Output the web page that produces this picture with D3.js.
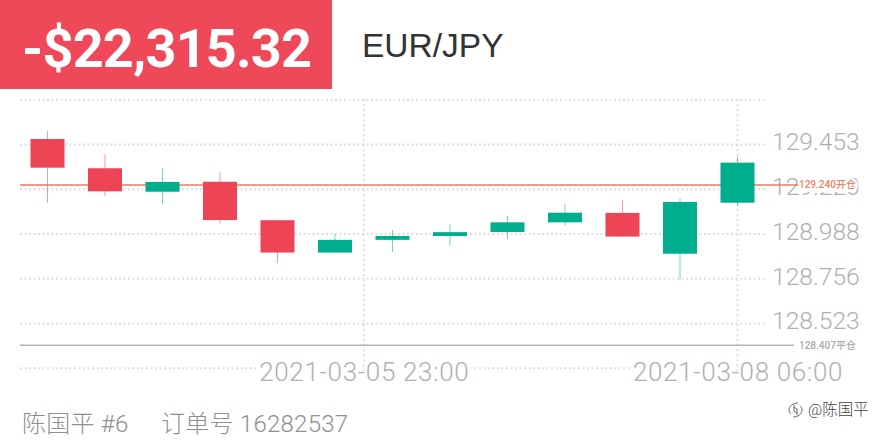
<!DOCTYPE html>
<html lang="en">

<head>
    <meta charset="UTF-8">
    <script src="https://d3js.org/d3.v7.min.js"></script>
    <title>EUR/JPY</title>
    <style>
        html, body { margin: 0; padding: 0; background: #fff; }
        svg { display: block; }
        .grid line { stroke: #dedede; stroke-width: 2; stroke-dasharray: 2 2.5; }
        .grid path { display: none; }
        .grid text { font-family: Roboto, sans-serif; font-weight: 300; font-size: 24.6px; fill: #b0b0b0; }
        .time text { font-size: 26px; letter-spacing: 0.65px; }
    </style>
</head>

<body>
    <div id="chart"></div>
</body>
<script>
    //Data
    const open = [129.479, 129.327, 129.205, 129.257, 129.057, 128.889, 128.955, 128.975, 128.996, 129.046, 129.095, 128.883, 129.148];
    const high = [129.520, 129.400, 129.327, 129.309, 129.057, 128.986, 129.006, 129.036, 129.079, 129.140, 129.162, 129.171, 129.387];
    const low = [129.148, 129.183, 129.141, 129.038, 128.834, 128.889, 128.892, 128.925, 128.960, 129.029, 128.972, 128.747, 129.131];
    const close = [129.330, 129.207, 129.256, 129.058, 128.889, 128.955, 128.975, 128.995, 129.046, 129.096, 128.972, 129.152, 129.356];
    const priceTicks = [129.453, 129.220, 128.988, 128.756, 128.523];
    const priceEdges = [129.685, 128.291];
    const timePositions = [5.5, 12];
    const timeLabels = ['2021-03-05 23:00', '2021-03-08 06:00'];
    const openPrice = 129.240;
    const closePrice = 128.407;
    const openLabel = '129.240开仓';
    const closeLabel = '128.407平仓';
    const profit = '-$22,315.32';
    const symbol = 'EUR/JPY';
    const trader = '陈国平 #6';
    const order = '订单号 16282537';
    const watermark = '@陈国平';

    //Variable
    const width = 880;
    const height = 440;
    const gridLeft = 20;
    const gridRight = 767;
    const red = '#ee4556';
    const green = '#00ae8d';
    const bodyWidth = 34;
    const candles = open.map((o, i) => ({ i, open: o, high: high[i], low: low[i], close: close[i] }));
    const yScale = d3.scaleLinear().domain([129.453, 128.523]).range([144, 323]);
    const xScale = d3.scaleLinear().domain([0, 12]).range([47.5, 737.5]);
    const candleColor = o => o.close >= o.open ? green : red;

    //Chart
    const svg = d3.select('div#chart')
        .append('svg')
        .attr('width', width)
        .attr('height', height);

    //-Header
    svg.append('rect').attr('width', 332).attr('height', 89).attr('fill', '#ef4859');
    svg.append('text')
        .attr('x', 22).attr('y', 67)
        .attr('textLength', 290)
        .attr('lengthAdjust', 'spacing')
        .style('font', '700 54px Roboto, sans-serif')
        .style('fill', '#fff')
        .text(profit);
    svg.append('text')
        .attr('x', 362).attr('y', 57)
        .style('font', '400 33.5px "Liberation Sans", sans-serif')
        .style('fill', '#333')
        .text(symbol);

    //-Grid and y axis
    const yAxisG = svg.append('g')
        .attr('class', 'grid')
        .attr('transform', `translate(${gridLeft},0)`)
        .call(d3.axisRight(yScale)
            .tickValues(priceTicks.concat(priceEdges))
            .tickSize(gridRight - gridLeft)
            .tickPadding(5)
            .tickFormat(d => priceTicks.includes(d) ? d3.format('.3f')(d) : ''));
    yAxisG.selectAll('text').attr('transform', 'translate(0,-2)');

    //-X axis, labels sit on a white patch over the bottom grid line
    const xAxisG = svg.append('g')
        .attr('class', 'grid time')
        .attr('transform', `translate(0,${yScale(priceEdges[1])})`)
        .call(d3.axisBottom(xScale)
            .tickValues(timePositions)
            .tickSize(0)
            .tickPadding(0)
            .tickFormat((d, i) => timeLabels[i]));
    xAxisG.selectAll('text').attr('dy', '0.4em').attr('y', 3);
    xAxisG.selectAll('.tick').insert('rect', 'text')
        .attr('x', -107).attr('width', 214)
        .attr('y', -5).attr('height', 22)
        .attr('fill', '#fff');
    svg.append('g')
        .selectAll('line')
        .data(timePositions)
        .enter()
        .append('line')
        .attr('x1', d => xScale(d))
        .attr('x2', d => xScale(d))
        .attr('y1', yScale(priceEdges[0]))
        .attr('y2', yScale(priceEdges[1]) + 3)
        .attr('stroke', '#dcdcdc')
        .attr('stroke-width', 2)
        .attr('stroke-dasharray', '2 3');

    //-Position lines
    svg.append('line')
        .attr('x1', gridLeft).attr('x2', 799)
        .attr('y1', yScale(openPrice)).attr('y2', yScale(openPrice))
        .attr('stroke', '#f0785f').attr('stroke-width', 1.5);
    svg.append('line')
        .attr('x1', gridLeft).attr('x2', 794)
        .attr('y1', yScale(closePrice)).attr('y2', yScale(closePrice))
        .attr('stroke', '#b4b4b4').attr('stroke-width', 1.5);
    svg.append('rect')
        .attr('x', 798).attr('y', yScale(openPrice) - 7)
        .attr('width', 60).attr('height', 14)
        .attr('rx', 7)
        .attr('fill', '#fff');
    svg.append('text')
        .attr('x', 799).attr('y', yScale(openPrice)).attr('dy', '0.35em')
        .style('font', '500 10px Roboto, "Noto Sans CJK SC", sans-serif')
        .style('fill', '#ee7f5f')
        .text(openLabel);
    svg.append('text')
        .attr('x', 799).attr('y', yScale(closePrice)).attr('dy', '0.35em')
        .style('font', '500 10px Roboto, "Noto Sans CJK SC", sans-serif')
        .style('fill', '#a8a8a8')
        .text(closeLabel);

    //-Candles
    svg.selectAll('line.wick')
        .data(candles)
        .enter()
        .append('line')
        .attr('class', 'wick')
        .attr('x1', o => xScale(o.i))
        .attr('x2', o => xScale(o.i))
        .attr('y1', o => yScale(o.high))
        .attr('y2', o => yScale(o.low))
        .attr('stroke', candleColor)
        .attr('stroke-opacity', 0.55)
        .attr('stroke-width', 1);
    svg.selectAll('rect.body')
        .data(candles)
        .enter()
        .append('rect')
        .attr('class', 'body')
        .attr('x', o => xScale(o.i) - bodyWidth / 2)
        .attr('width', bodyWidth)
        .attr('y', o => yScale(Math.max(o.open, o.close)))
        .attr('height', o => Math.abs(yScale(o.open) - yScale(o.close)))
        .attr('fill', candleColor);

    //-Footer
    const footer = svg.append('g')
        .style('font', '300 24px Roboto, "Noto Sans CJK SC", sans-serif')
        .style('letter-spacing', '0.25px')
        .style('fill', '#8f8f8f');
    footer.append('text').attr('x', 22).attr('y', 432).text(trader);
    footer.append('text').attr('x', 161).attr('y', 432).text(order);

    //-Watermark
    svg.append('path')
        .attr('transform', 'translate(-2,0)')
        .attr('d', 'M800 403c-5 0-9 3-9 7 0 2 1 3 2 4 M795 417c5 0 9-3 9-7 0-2-1-3-2-4 M796 405v6l3 2 M799 415v-6l-3-2')
        .attr('fill', 'none')
        .attr('stroke', '#666')
        .attr('stroke-width', 1);
    svg.append('text')
        .attr('x', 808).attr('y', 415)
        .style('font', '300 15.5px Roboto, "Noto Sans CJK SC", sans-serif')
        .style('fill', '#444')
        .text(watermark);
</script>

</html>
